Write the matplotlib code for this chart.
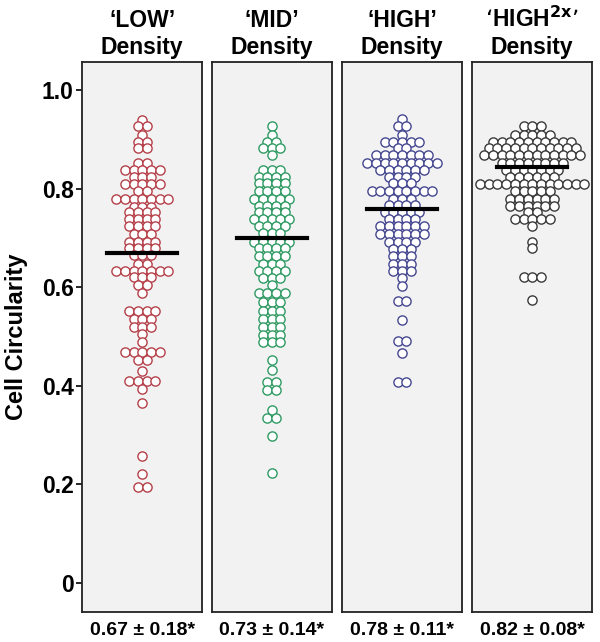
import matplotlib
matplotlib.use("Agg")
import matplotlib.pyplot as plt
import numpy as np

plt.rcParams["font.family"] = ["Liberation Sans", "DejaVu Sans"]
plt.rcParams["font.weight"] = "bold"
plt.rcParams["mathtext.default"] = "bf"

# values (value, how many circles in that row)
titles = ["\u2018LOW\u2019\nDensity", "\u2018MID\u2019\nDensity",
          "\u2018HIGH\u2019\nDensity", "\u2018HIGH$^{2x}$\u2019\nDensity"]
stats = ["0.67 \u00b1 0.18*", "0.73 \u00b1 0.14*",
         "0.78 \u00b1 0.11*", "0.82 \u00b1 0.08*"]
means = [0.670, 0.701, 0.760, 0.844]
colors = ["#b5404a", "#2f9a63", "#45478f", "#3a3a3a"]

low_vals = [0.939, 0.927, 0.910, 0.895, 0.882, 0.853, 0.839, 0.824, 0.809,
            0.796, 0.780, 0.763, 0.752, 0.738, 0.724, 0.709, 0.692, 0.679,
            0.665, 0.648, 0.634, 0.621, 0.604, 0.588, 0.552, 0.535, 0.520,
            0.505, 0.489, 0.468, 0.452, 0.431, 0.410, 0.393, 0.365, 0.258,
            0.221, 0.194]
low_counts = [1, 2, 1, 2, 2, 2, 5, 3, 5, 2, 7, 3, 4, 4, 4, 3, 4, 4,
              3, 2, 7, 3, 2, 1, 4, 3, 3, 1, 1, 5, 2, 1, 4, 1, 1, 1,
              1, 2]

mid_vals = [0.927, 0.910, 0.895, 0.882, 0.868, 0.839, 0.824, 0.811, 0.796,
            0.780, 0.765, 0.752, 0.738, 0.724, 0.711, 0.692, 0.679, 0.663,
            0.648, 0.634, 0.619, 0.604, 0.588, 0.571, 0.552, 0.535, 0.520,
            0.503, 0.489, 0.452, 0.432, 0.408, 0.391, 0.350, 0.334, 0.298,
            0.222]
mid_counts = [1, 1, 2, 3, 1, 3, 4, 4, 4, 5, 4, 4, 5, 4, 3, 5, 4, 4,
              3, 4, 3, 1, 4, 3, 3, 3, 3, 3, 3, 1, 1, 2, 2, 1, 2, 1,
              1]

high_vals = [0.941, 0.927, 0.910, 0.895, 0.882, 0.868, 0.853, 0.839, 0.824,
             0.811, 0.796, 0.780, 0.767, 0.752, 0.738, 0.724, 0.709, 0.692,
             0.677, 0.663, 0.648, 0.634, 0.618, 0.602, 0.573, 0.533, 0.491,
             0.467, 0.408]
high_counts = [1, 2, 1, 5, 2, 7, 9, 6, 4, 3, 8, 3, 4, 5, 4, 6, 6, 4,
               3, 3, 3, 3, 1, 1, 2, 1, 2, 1, 2]

high2x_vals = [0.927, 0.910, 0.895, 0.882, 0.868, 0.853, 0.838, 0.824, 0.809,
               0.796, 0.780, 0.765, 0.752, 0.738, 0.724, 0.692, 0.679, 0.621,
               0.574]
high2x_counts = [3, 5, 10, 11, 12, 8, 7, 6, 13, 5, 6, 6, 2, 5, 1, 1, 1, 3, 1]

groups = [(low_vals, low_counts), (mid_vals, mid_counts),
          (high_vals, high_counts), (high2x_vals, high2x_counts)]

fig = plt.figure(figsize=(6.0, 6.42), dpi=100)
lefts = [0.137, 0.353, 0.570, 0.787]
step = 0.145  # horizontal spacing between neighbouring circles

for i, (vals, counts) in enumerate(groups):
    ax = fig.add_axes([lefts[i], 0.047, 0.2, 0.856])
    ax.set_facecolor("#f2f2f2")
    xs, ys = [], []
    for v, n in zip(vals, counts):
        for k in range(n):
            xs.append((k - (n - 1) / 2) * step)
            ys.append(v)
    ax.scatter(xs, ys, s=44, facecolors="white", edgecolors=colors[i],
               linewidths=1.0, zorder=2)
    ax.plot([-0.58, 0.58], [means[i], means[i]], color="black", lw=3, zorder=3)
    ax.set_xlim(-1, 1)
    ax.set_ylim(-0.059, 1.057)
    ax.set_xticks([])
    for sp in ax.spines.values():
        sp.set_linewidth(1.3)
        sp.set_color("#222222")
    ax.set_title(titles[i], fontsize=16.5, fontweight="bold", pad=6,
                 linespacing=1.2)
    ax.text(0.5, -0.018, stats[i], transform=ax.transAxes, ha="center",
            va="top", fontsize=14, fontweight="bold")
    if i == 0:
        ax.set_yticks([0, 0.2, 0.4, 0.6, 0.8, 1.0])
        ax.set_yticklabels(["0", "0.2", "0.4", "0.6", "0.8", "1.0"])
        ax.tick_params(axis="y", labelsize=16.5, length=4, width=1.2, pad=2)
        for lab in ax.get_yticklabels():
            lab.set_fontweight("bold")
        ax.set_ylabel("Cell Circularity", fontsize=17, fontweight="bold",
                      labelpad=10)
    else:
        ax.set_yticks([])

fig.savefig("out.png", dpi=100)
